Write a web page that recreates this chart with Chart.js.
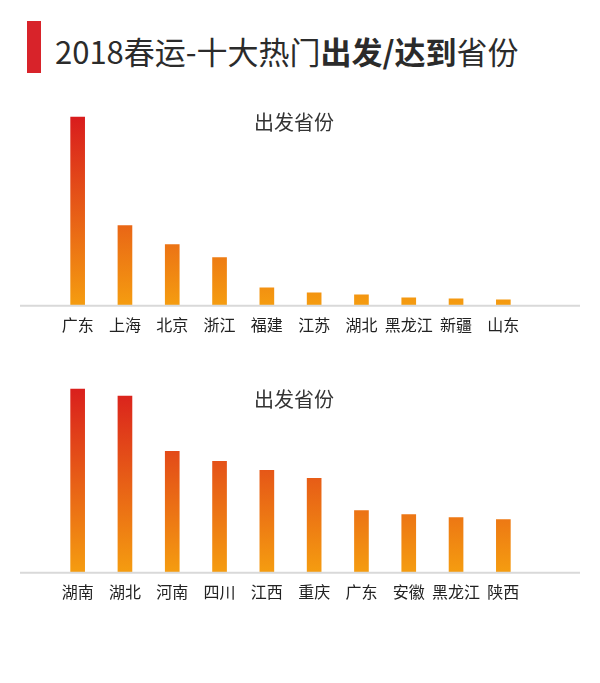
<!DOCTYPE html>
<html>
<head>
<meta charset="utf-8">
<script src="https://cdn.jsdelivr.net/npm/chart.js@4/dist/chart.umd.min.js"></script>
<style>
    body { margin: 0; width: 600px; height: 683px; background: #fff; position: relative; overflow: hidden;
           font-family: "Noto Sans CJK SC", "Noto Sans", sans-serif; }
    .mark { position: absolute; left: 27px; top: 21px; width: 14px; height: 52px; background: #d8232a; }
    .title { position: absolute; left: 55px; top: 35px; font-size: 31px; line-height: 1; color: #2b2b2b; white-space: nowrap; }
    .title b { font-weight: 700; }
    .sub { position: absolute; left: 0; width: 588px; text-align: center; font-size: 20px; line-height: 1; color: #333; }
    canvas { position: absolute; left: 0; }
</style>
</head>
<body>
<div class="mark"></div>
<div class="title">2018春运-十大热门<b>出发/达到</b>省份</div>
<canvas id="departChart" width="600" height="245" style="top:100px"></canvas>
<canvas id="arriveChart" width="600" height="245" style="top:367px"></canvas>
<div class="sub" style="top:112px">出发省份</div>
<div class="sub" style="top:389px">出发省份</div>
<script>
// values (relative bar heights)
const departLabels = ['广东', '上海', '北京', '浙江', '福建', '江苏', '湖北', '黑龙江', '新疆', '山东'];
const departValues = [188, 80, 61, 48, 18, 13, 11, 8, 7, 6];

const arriveLabels = ['湖南', '湖北', '河南', '四川', '江西', '重庆', '广东', '安徽', '黑龙江', '陕西'];
const arriveValues = [183, 176, 121, 111, 102, 94, 62, 58, 55, 53];

const yMax = 200;

function barGradient(context) {
    const { chart } = context;
    const area = chart.chartArea;
    if (!area) return '#f39c12';
    const g = chart.ctx.createLinearGradient(0, area.bottom, 0, area.top);
    g.addColorStop(0, '#f59d10');
    g.addColorStop(1, '#d7141e');
    return g;
}

// light grey base line, wider than the plot area
const baseLine = {
    id: 'baseLine',
    afterDatasetsDraw(chart) {
        const ctx = chart.ctx;
        const y = chart.scales.y.getPixelForValue(0);
        ctx.save();
        ctx.strokeStyle = '#d9d9d9';
        ctx.lineWidth = 2;
        ctx.beginPath();
        ctx.moveTo(20, y);
        ctx.lineTo(580, y);
        ctx.stroke();
        ctx.restore();
    }
};

function makeChart(id, labels, values) {
    return new Chart(document.getElementById(id), {
        type: 'bar',
        data: {
            labels: labels,
            datasets: [{
                data: values,
                backgroundColor: barGradient,
                barThickness: 14
            }]
        },
        options: {
            responsive: false,
            animation: false,
            layout: { padding: { left: 54, right: 73, top: 5, bottom: 0 } },
            plugins: { legend: { display: false }, tooltip: { enabled: false } },
            scales: {
                x: {
                    grid: { display: false, drawTicks: false },
                    border: { display: false },
                    ticks: {
                        padding: 10,
                        maxRotation: 0,
                        autoSkip: false,
                        color: '#222',
                        font: { family: '"Noto Sans CJK SC"', size: 16 }
                    }
                },
                y: { display: false, min: 0, max: yMax }
            }
        },
        plugins: [baseLine]
    });
}

makeChart('departChart', departLabels, departValues);
makeChart('arriveChart', arriveLabels, arriveValues);
</script>
</body>
</html>
